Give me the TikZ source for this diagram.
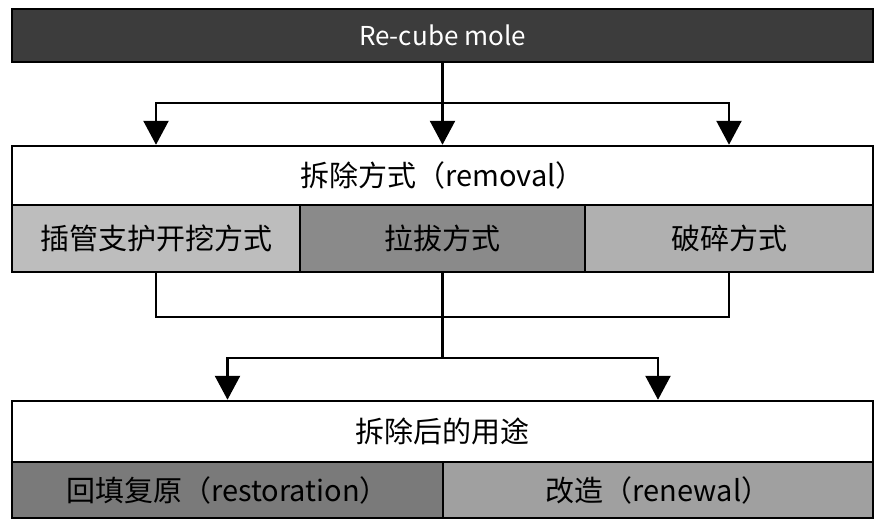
\documentclass[tikz,border=0pt]{standalone}
\usepackage{fontspec}
\setmainfont{Noto Sans CJK SC}
\usetikzlibrary{arrows.meta}
\definecolor{topgray}{HTML}{3C3C3C}
\definecolor{litegray}{HTML}{BDBDBD}
\definecolor{midgray}{HTML}{8A8A8A}
\definecolor{palegray}{HTML}{B0B0B0}
\definecolor{darkgray}{HTML}{7A7A7A}
\definecolor{softgray}{HTML}{A0A0A0}
\tikzset{
  cell/.style={draw=black,line width=2.5pt,rectangle,inner sep=0pt,font=\fontsize{29}{33}\selectfont},
  wire/.style={line width=2.5pt,line cap=rect},
  tip/.style={line width=2.5pt,-{Triangle[length=24pt,width=25pt]}}
}
\begin{document}
\begin{tikzpicture}[x=1pt,y=-1pt]
    \useasboundingbox (0,0) rectangle (881,531);
    \node[cell,fill=topgray,text=white,minimum width=861pt,minimum height=53pt,font=\fontsize{26}{30}\selectfont] (mole) at (442.5,35.5) {Re-cube mole};
    \node[cell,fill=white,minimum width=861pt,minimum height=59pt] (removal) at (442.5,175.5) {拆除方式（removal）};
    \node[cell,fill=litegray,minimum width=288pt,minimum height=67pt] (pipe) at (156,238.5) {插管支护开挖方式};
    \node[cell,fill=midgray,minimum width=285pt,minimum height=67pt] (pull) at (442.5,238.5) {拉拔方式};
    \node[cell,fill=palegray,minimum width=288pt,minimum height=67pt] (crush) at (729,238.5) {破碎方式};
    \node[cell,fill=white,minimum width=861pt,minimum height=61pt] (use) at (442.5,431.5) {拆除后的用途};
    \node[cell,fill=darkgray,minimum width=431pt,minimum height=56pt] (restore) at (227.5,490) {回填复原（restoration）};
    \node[cell,fill=softgray,minimum width=430pt,minimum height=56pt] (renew) at (658,490) {改造（renewal）};
    \coordinate (fork) at (442.5,103);
    \coordinate (join) at (442.5,317);
    \coordinate (split) at (442.5,358);
    \draw[wire] (mole.south) -- (fork);
    \draw[wire] (fork -| pipe) -- (fork -| crush);
    \foreach \n in {pipe,pull,crush}
    {
    \draw[tip] (fork -| \n) -- (removal.north -| \n);
    \draw[wire] (\n.south) -- (join -| \n);
    }
    \draw[wire] (join -| pipe) -- (join -| crush);
    \draw[wire] (join) -- (split);
    \draw[wire] (split -| restore) -- (split -| renew);
    \foreach \n in {restore,renew}
    {
    \draw[tip] (split -| \n) -- (use.north -| \n);
    }
\end{tikzpicture}
\end{document}
